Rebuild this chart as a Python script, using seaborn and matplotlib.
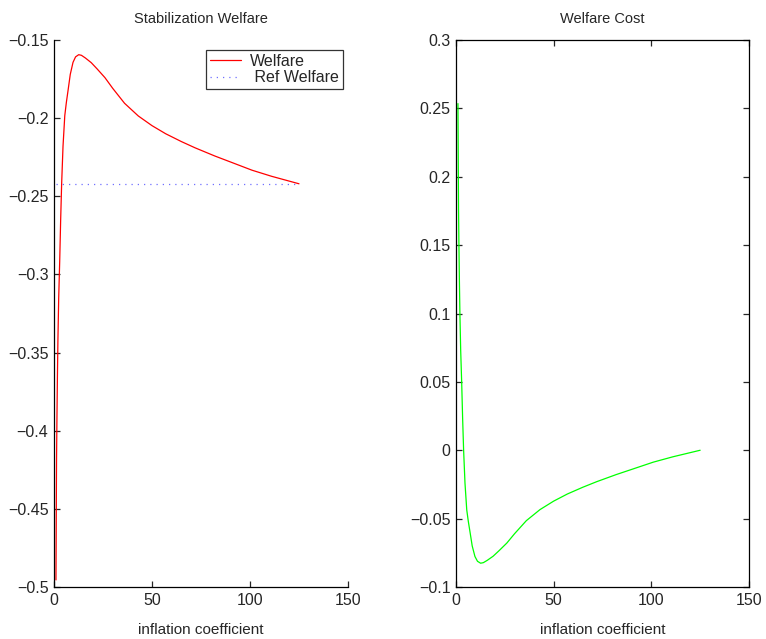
import numpy as np
import pandas as pd
import matplotlib
matplotlib.use("Agg")
import matplotlib.pyplot as plt
from matplotlib.ticker import FuncFormatter
import seaborn as sns

# values
welfare_x = [1.0, 1.1, 1.2, 1.3, 1.5, 1.75, 2.0, 2.4, 2.9, 3.4, 3.9, 4.6, 5.5,
             6.3, 7.2, 8.3, 9.7, 11.0, 12.6, 14.0, 16.0, 19.0, 22.0, 26.0,
             30.0, 36.0, 43.0, 50.0, 57.0, 65.0, 72.0, 82.0, 91.0, 101.0,
             111.0, 125.0]
welfare_y = [-0.4955, -0.470, -0.442, -0.418, -0.392, -0.365, -0.342, -0.315,
             -0.292, -0.265, -0.242, -0.218, -0.1984, -0.190, -0.182, -0.172,
             -0.1643, -0.1608, -0.1594, -0.1598, -0.1615, -0.1645, -0.1685,
             -0.1741, -0.181, -0.1905, -0.1986, -0.2048, -0.210, -0.215,
             -0.219, -0.2242, -0.2285, -0.2333, -0.2372, -0.2420]
ref_x = [1.0, 125.0]
ref_y = [-0.242, -0.242]

cost_x = [1.0, 1.1, 1.2, 1.3, 1.5, 1.75, 2.0, 2.4, 2.9, 3.4, 3.9, 4.6, 5.5,
          6.3, 7.2, 8.3, 9.7, 11.0, 12.6, 14.0, 16.0, 19.0, 22.0, 26.0,
          30.0, 36.0, 43.0, 50.0, 57.0, 65.0, 72.0, 82.0, 91.0, 101.0,
          111.0, 125.0]
cost_y = [0.2535, 0.228, 0.200, 0.176, 0.150, 0.123, 0.100, 0.073, 0.050,
          0.023, 0.000, -0.024, -0.0436, -0.052, -0.060, -0.070, -0.0777,
          -0.0812, -0.0826, -0.0822, -0.0805, -0.0775, -0.0735, -0.0679,
          -0.061, -0.0515, -0.0434, -0.0372, -0.032, -0.027, -0.023,
          -0.0178, -0.0135, -0.0087, -0.0048, 0.0]

sns.set_style("white")
plt.rcParams['font.family'] = ['Liberation Sans', 'DejaVu Sans']
plt.rcParams['font.size'] = 11
plt.rcParams['axes.linewidth'] = 0.9
plt.rcParams['xtick.direction'] = 'in'
plt.rcParams['ytick.direction'] = 'in'
plt.rcParams['xtick.major.size'] = 4
plt.rcParams['ytick.major.size'] = 4
plt.rcParams['xtick.major.width'] = 0.9
plt.rcParams['ytick.major.width'] = 0.9


def matlab_fmt(v, pos):
    s = '%g' % round(v, 4)
    return s.replace('-', '\u2212')


fig = plt.figure(figsize=(7.66, 6.39), dpi=100)
ax1 = fig.add_axes([54 / 766, 52 / 639, 294 / 766, 547 / 639])
ax2 = fig.add_axes([456 / 766, 52 / 639, 293 / 766, 547 / 639])

df_w = pd.DataFrame({'x': welfare_x, 'y': welfare_y})
df_r = pd.DataFrame({'x': ref_x, 'y': ref_y})
df_c = pd.DataFrame({'x': cost_x, 'y': cost_y})

# left panel
sns.lineplot(data=df_w, x='x', y='y', ax=ax1, color='red', linewidth=0.9,
             sort=False, label='Welfare')
sns.lineplot(data=df_r, x='x', y='y', ax=ax1, color='#6f6fff', linewidth=0.9,
             linestyle=(0, (1, 4)), sort=False, label=' Ref Welfare')
ax1.set_xlim(0, 150)
ax1.set_ylim(-0.5, -0.15)
ax1.set_xticks([0, 50, 100, 150])
ax1.set_yticks(np.arange(-0.5, -0.149, 0.05))
ax1.yaxis.set_major_formatter(FuncFormatter(matlab_fmt))
ax1.spines['top'].set_visible(False)
ax1.spines['right'].set_visible(False)
ax1.tick_params(bottom=True, left=True, labelsize=11.5, pad=4)
ax1.set_title('Stabilization Welfare', fontsize=10.5, pad=12)
ax1.set_xlabel('inflation coefficient', fontsize=11, labelpad=11)
ax1.set_ylabel('')
leg = ax1.legend(loc='upper right', bbox_to_anchor=(0.983, 0.982), frameon=True,
                 fancybox=False, edgecolor='black', fontsize=11.5,
                 borderpad=0.25, borderaxespad=0, handlelength=1.9,
                 handletextpad=0.6, labelspacing=0.1)
leg.get_frame().set_linewidth(0.9)

# right panel
sns.lineplot(data=df_c, x='x', y='y', ax=ax2, color='#00ff00', linewidth=0.9,
             sort=False)
ax2.set_xlim(0, 150)
ax2.set_ylim(-0.1, 0.3)
ax2.set_xticks([0, 50, 100, 150])
ax2.set_yticks(np.arange(-0.1, 0.301, 0.05))
ax2.yaxis.set_major_formatter(FuncFormatter(matlab_fmt))
for sp in ax2.spines.values():
    sp.set_visible(True)
    sp.set_color('black')
ax2.tick_params(bottom=True, left=True, top=True, right=True, labelsize=11.5, pad=4)
ax2.set_title('Welfare Cost', fontsize=10.5, pad=12)
ax2.set_xlabel('inflation coefficient', fontsize=11, labelpad=11)
ax2.set_ylabel('')

for sp in ax1.spines.values():
    sp.set_color('black')

fig.savefig('out.png', dpi=100)
